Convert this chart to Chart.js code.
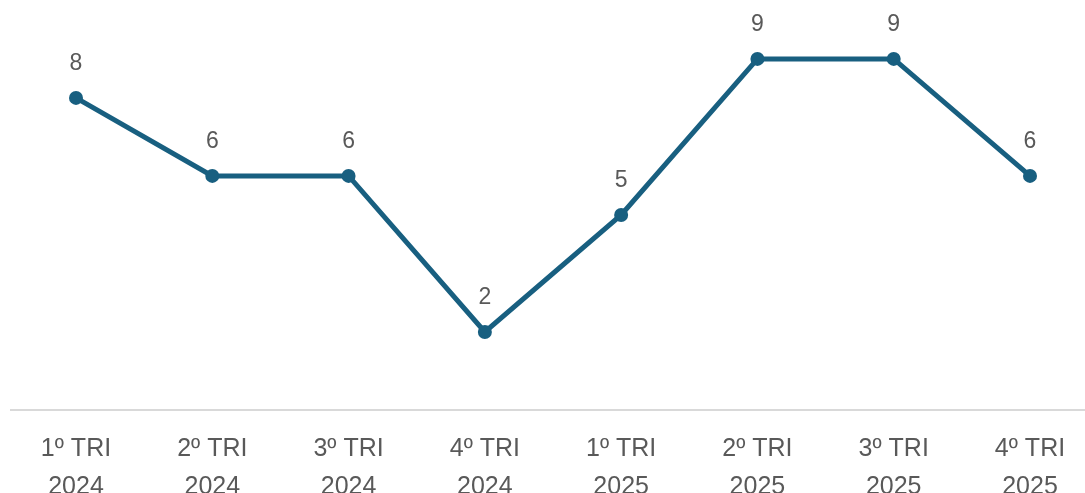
<!DOCTYPE html>
<html>
<head>
<meta charset="utf-8">
<script src="https://cdn.jsdelivr.net/npm/chart.js@4"></script>
<style>
  html, body { margin: 0; padding: 0; background: #fff; }
  #wrap { width: 1085px; height: 493px; }
</style>
</head>
<body>
<div id="wrap"><canvas id="trimestres"></canvas></div>
<script>
const quarters = ['1º TRI', '2º TRI', '3º TRI', '4º TRI', '1º TRI', '2º TRI', '3º TRI', '4º TRI'];
const years = ['2024', '2024', '2024', '2024', '2025', '2025', '2025', '2025'];
const totals = [8, 6, 6, 2, 5, 9, 9, 6];

const lineColor = '#185f80';
const textColor = '#595959';
const fontFamily = '"Liberation Sans", Arial, sans-serif';

// value labels above each point
const valueLabels = {
    id: 'valueLabels',
    afterDatasetsDraw(chart) {
        const ctx = chart.ctx;
        const meta = chart.getDatasetMeta(0);
        ctx.save();
        ctx.fillStyle = textColor;
        ctx.font = '23px ' + fontFamily;
        ctx.textAlign = 'center';
        ctx.textBaseline = 'middle';
        meta.data.forEach((pt, i) => {
            ctx.fillText(totals[i], pt.x, pt.y - 34);
        });
        ctx.restore();
    }
};

// light baseline across the full width
const baseline = {
    id: 'baseline',
    beforeDatasetsDraw(chart) {
        const ctx = chart.ctx;
        const y = chart.scales.y.getPixelForValue(0);
        ctx.save();
        ctx.strokeStyle = '#d9d9d9';
        ctx.lineWidth = 2;
        ctx.beginPath();
        ctx.moveTo(10, y);
        ctx.lineTo(1085, y);
        ctx.stroke();
        ctx.restore();
    }
};

const ctx = document.getElementById('trimestres').getContext('2d');
new Chart(ctx, {
    type: 'line',
    data: {
        labels: quarters.map((q, i) => [q, years[i]]),
        datasets: [{
            data: totals,
            borderColor: lineColor,
            backgroundColor: lineColor,
            borderWidth: 5,
            pointRadius: 7,
            pointBorderWidth: 0,
            pointHoverRadius: 7,
            tension: 0,
            fill: false
        }]
    },
    options: {
        responsive: true,
        maintainAspectRatio: false,
        animation: false,
        layout: { padding: { left: 76, right: 55, top: 0, bottom: 0 } },
        plugins: {
            legend: { display: false },
            tooltip: { enabled: false }
        },
        scales: {
            x: {
                offset: false,
                grid: { display: false },
                border: { display: false },
                ticks: {
                    color: textColor,
                    font: { family: fontFamily, size: 25, lineHeight: 1.52 },
                    padding: 12,
                    maxRotation: 0,
                    autoSkip: false
                },
                afterFit(scale) { scale.height = 83; }
            },
            y: {
                display: false,
                min: 0,
                max: 10.33
            }
        }
    },
    plugins: [baseline, valueLabels]
});
</script>
</body>
</html>
